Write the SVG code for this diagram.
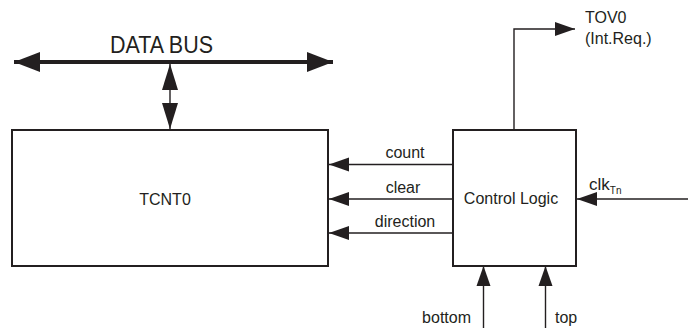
<svg xmlns="http://www.w3.org/2000/svg" width="688" height="328" viewBox="0 0 688 328">
<style>
text{font-family:"Liberation Sans",Arial,sans-serif;fill:#231f20}
.box{fill:#fff;stroke:#231f20;stroke-width:2}
.w{stroke:#231f20;stroke-width:1.4;fill:none}
.bus{stroke:#231f20;stroke-width:4;fill:none}
.lbl{font-size:16px}
</style>
<defs>
<marker id="ah" viewBox="0 0 20 16" refX="20" refY="8" markerWidth="20" markerHeight="16" markerUnits="userSpaceOnUse" orient="auto-start-reverse"><path d="M0,1 L20,8 L0,15 z" fill="#231f20"/></marker>
<marker id="bh" viewBox="0 0 26 20" refX="26" refY="10" markerWidth="26" markerHeight="20" markerUnits="userSpaceOnUse" orient="auto-start-reverse"><path d="M0,0 L26,10 L0,20 z" fill="#231f20"/></marker>
<marker id="vh" viewBox="0 0 26 16" refX="26" refY="8" markerWidth="26" markerHeight="16" markerUnits="userSpaceOnUse" orient="auto-start-reverse"><path d="M0,0 L26,8 L0,16 z" fill="#231f20"/></marker>
</defs>
<g id="connectors">
<path class="bus" d="M14,62 H333" marker-start="url(#bh)" marker-end="url(#bh)"/>
<path class="w" d="M170,64 V129" marker-start="url(#vh)" marker-end="url(#vh)"/>
<path class="w" d="M453,164.5 H329" marker-end="url(#ah)"/>
<path class="w" d="M453,199 H329" marker-end="url(#ah)"/>
<path class="w" d="M453,233 H329" marker-end="url(#ah)"/>
<path class="w" d="M688,199 H577" marker-end="url(#ah)"/>
<path class="w" d="M483.5,328 V266" marker-end="url(#ah)"/>
<path class="w" d="M545.5,328 V266" marker-end="url(#ah)"/>
<path class="w" d="M514,130 V29 H575" marker-end="url(#ah)"/>
<text class="lbl" x="405" y="158" text-anchor="middle">count</text>
<text class="lbl" x="403" y="192.5" text-anchor="middle">clear</text>
<text class="lbl" x="405" y="226.5" text-anchor="middle">direction</text>
<text x="589" y="189.5" font-size="17">clk<tspan font-size="10" dy="4">Tn</tspan></text>
<text class="lbl" x="471" y="322.5" text-anchor="end">bottom</text>
<text class="lbl" x="555" y="322.5">top</text>
<text class="lbl" x="585" y="23">TOV0</text>
<text class="lbl" x="585" y="43.5">(Int.Req.)</text>
<text x="110" y="53" font-size="23" textLength="103" lengthAdjust="spacingAndGlyphs">DATA BUS</text>
</g>
<g id="tcnt0">
<rect class="box" x="12" y="130" width="316" height="136"/>
<text class="lbl" x="165" y="205" text-anchor="middle">TCNT0</text>
</g>
<g id="control-logic">
<rect class="box" x="453" y="130" width="123" height="136"/>
<text class="lbl" x="511" y="204" text-anchor="middle">Control Logic</text>
</g>
</svg>
